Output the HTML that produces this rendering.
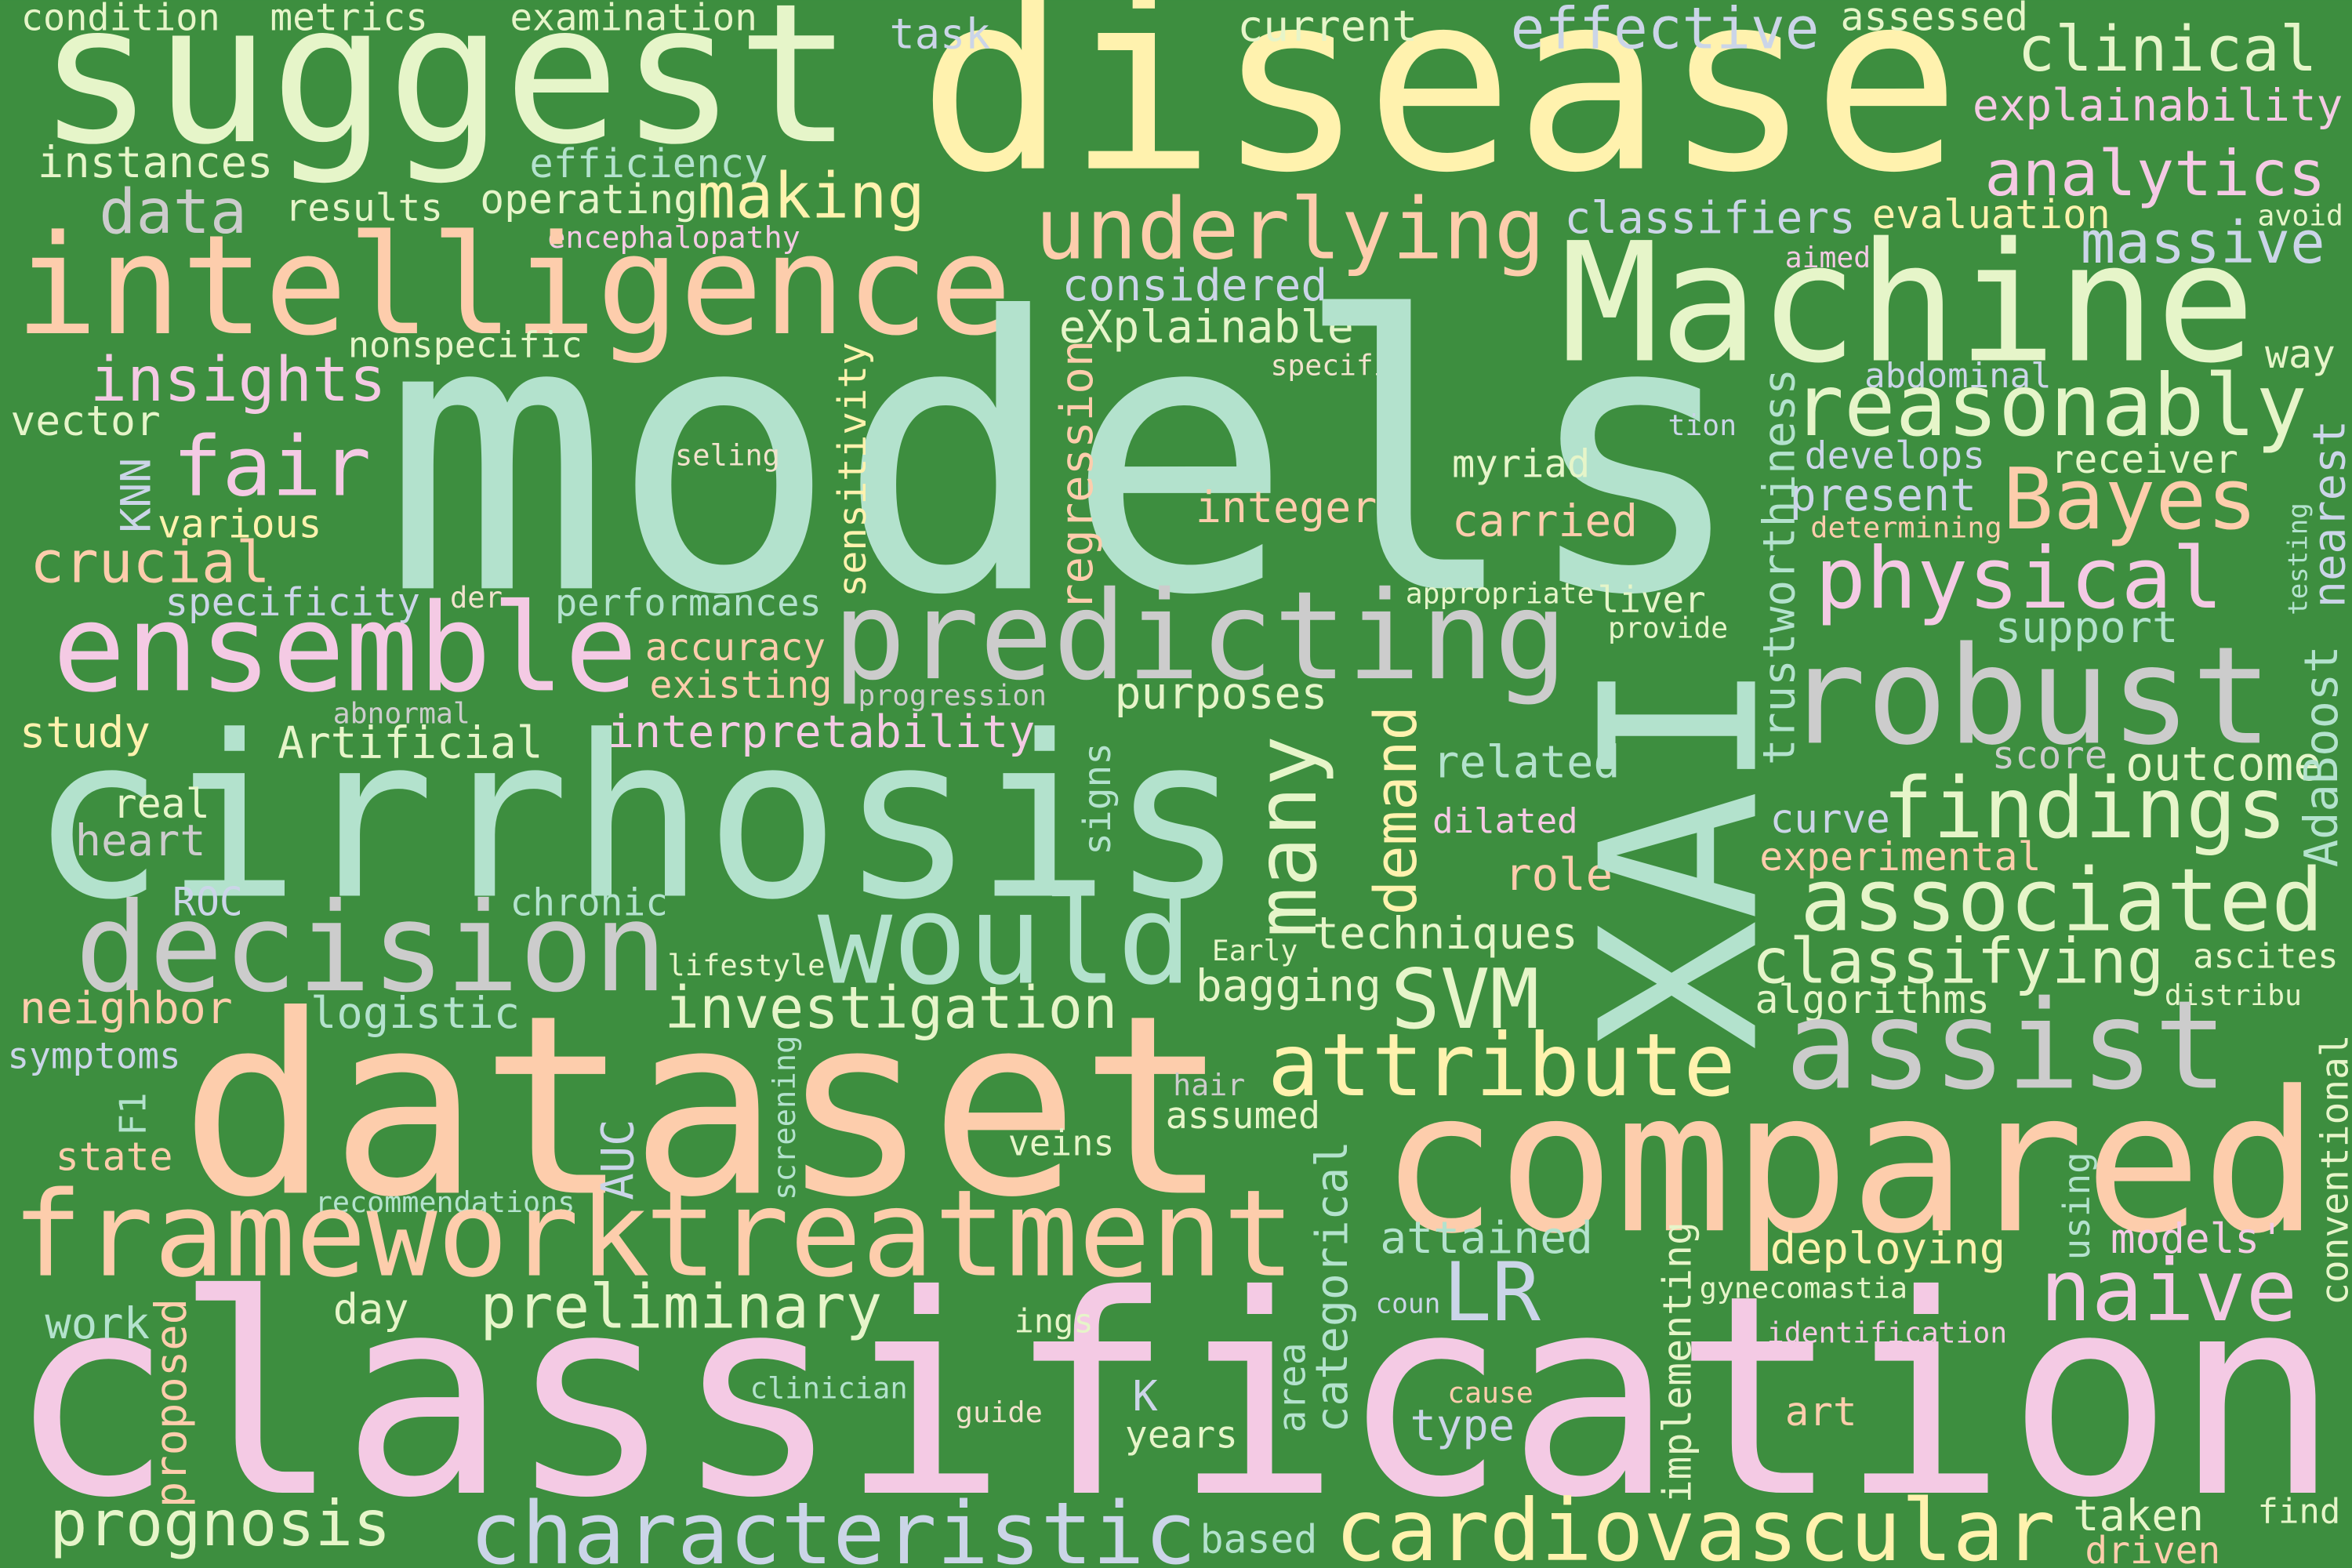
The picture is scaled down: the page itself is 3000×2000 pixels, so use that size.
<!DOCTYPE html>
<html><head><meta charset="utf-8"><style>
html,body{margin:0;padding:0;background:#3d8e3f;}
svg{display:block}
text{font-family:"DejaVu Sans Mono","Liberation Mono",monospace;}
</style></head><body>
<svg width="3000" height="2000" viewBox="0 0 1568 1045" xmlns="http://www.w3.org/2000/svg">
<rect x="0" y="0" width="1568" height="1045" fill="#3d8e3f"/>
<g>
<text x="5" y="995" font-size="184.5" fill="#f4cae4">classification</text>
<text x="14" y="20" font-size="24.5" fill="#e6f5c9">condition</text>
<text x="180" y="20" font-size="25" fill="#e6f5c9">metrics</text>
<text x="340" y="20" font-size="24.9" fill="#e6f5c9">examination</text>
<text x="25" y="94" font-size="129" fill="#e6f5c9">suggest</text>
<text x="612" y="112" font-size="165" fill="#fff2ae">disease</text>
<text x="593" y="32" font-size="28" fill="#cbd5e8">task</text>
<text x="825" y="27" font-size="28.5" fill="#e6f5c9">current</text>
<text x="1007" y="32" font-size="38" fill="#cbd5e8">effective</text>
<text x="1227" y="20" font-size="26" fill="#e6f5c9">assessed</text>
<text x="1345" y="47" font-size="41.5" fill="#e6f5c9">clinical</text>
<text x="1315" y="80" font-size="29.3" fill="#f4cae4">explainability</text>
<text x="25" y="118" font-size="29" fill="#e6f5c9">instances</text>
<text x="353" y="118" font-size="26.4" fill="#b3e2cd">efficiency</text>
<text x="1323" y="130" font-size="42" fill="#f4cae4">analytics</text>
<text x="66" y="155" font-size="41" fill="#cccccc">data</text>
<text x="190" y="147" font-size="25" fill="#e6f5c9">results</text>
<text x="320" y="142" font-size="26.8" fill="#e6f5c9">operating</text>
<text x="465" y="145" font-size="42" fill="#fff2ae">making</text>
<text x="365" y="165" font-size="20" fill="#f4cae4">encephalopathy</text>
<text x="1043" y="155" font-size="29.3" fill="#cbd5e8">classifiers</text>
<text x="1248" y="152" font-size="26.4" fill="#fff2ae">evaluation</text>
<text x="1505" y="150" font-size="19" fill="#e6f5c9">avoid</text>
<text x="690" y="172" font-size="56.5" fill="#fdcdac">underlying</text>
<text x="1387" y="175" font-size="38.7" fill="#cbd5e8">massive</text>
<text x="10" y="222" font-size="92" fill="#fdcdac">intelligence</text>
<text x="1040" y="240" font-size="110" fill="#e6f5c9">Machine</text>
<text x="1190" y="178" font-size="19" fill="#f4cae4">aimed</text>
<text x="708" y="200" font-size="29.4" fill="#cbd5e8">considered</text>
<text x="706" y="228" font-size="29.7" fill="#e6f5c9">eXplainable</text>
<text x="232" y="238" font-size="23.6" fill="#e6f5c9">nonspecific</text>
<text x="847" y="250" font-size="19" fill="#f1e2cc">specific</text>
<text x="1510" y="245" font-size="26" fill="#e6f5c9">way</text>
<text x="60" y="267" font-size="41" fill="#f4cae4">insights</text>
<text x="255" y="392" font-size="252" fill="#b3e2cd">models</text>
<text x="1243" y="258" font-size="23" fill="#cbd5e8">abdominal</text>
<text x="1195" y="290" font-size="57" fill="#e6f5c9">reasonably</text>
<text x="7" y="290" font-size="27.7" fill="#e6f5c9">vector</text>
<text x="1112" y="290" font-size="19" fill="#cbd5e8">tion</text>
<text x="115" y="330" font-size="55" fill="#f4cae4">fair</text>
<text x="450" y="310" font-size="19.4" fill="#f1e2cc">seling</text>
<text x="1203" y="312" font-size="25" fill="#cbd5e8">develops</text>
<text x="1367" y="315" font-size="26" fill="#e6f5c9">receiver</text>
<text x="968" y="318" font-size="25.5" fill="#e6f5c9">myriad</text>
<text x="797" y="348" font-size="28.7" fill="#fdcdac">integer</text>
<text x="1193" y="340" font-size="29.6" fill="#cbd5e8">present</text>
<text x="1335" y="352" font-size="56.5" fill="#fdcdac">Bayes</text>
<text x="968" y="357" font-size="29.4" fill="#fdcdac">carried</text>
<text x="105" y="358" font-size="26" fill="#fff2ae">various</text>
<text x="1207" y="358" font-size="19.3" fill="#fdcdac">determining</text>
<text x="20" y="388" font-size="38" fill="#fdcdac">crucial</text>
<text x="1210" y="405" font-size="56.5" fill="#f4cae4">physical</text>
<text x="110" y="410" font-size="25.7" fill="#cbd5e8">specificity</text>
<text x="300" y="405" font-size="19.4" fill="#f1e2cc">der</text>
<text x="370" y="410" font-size="24.6" fill="#b3e2cd">performances</text>
<text x="937" y="402" font-size="19" fill="#e6f5c9">appropriate</text>
<text x="1065" y="408" font-size="24" fill="#e6f5c9">liver</text>
<text x="1072" y="425" font-size="19" fill="#e6f5c9">provide</text>
<text x="1330" y="428" font-size="29" fill="#b3e2cd">support</text>
<text x="35" y="460" font-size="81" fill="#f4cae4">ensemble</text>
<text x="555" y="452" font-size="81.4" fill="#cccccc">predicting</text>
<text x="430" y="440" font-size="25" fill="#fdcdac">accuracy</text>
<text x="1190" y="495" font-size="90" fill="#cccccc">robust</text>
<text x="433" y="465" font-size="25.3" fill="#fdcdac">existing</text>
<text x="222" y="482" font-size="19" fill="#cccccc">abnormal</text>
<text x="572" y="470" font-size="19" fill="#cccccc">progression</text>
<text x="743" y="472" font-size="29.5" fill="#e6f5c9">purposes</text>
<text x="13" y="498" font-size="29" fill="#fff2ae">study</text>
<text x="185" y="505" font-size="29.4" fill="#e6f5c9">Artificial</text>
<text x="405" y="498" font-size="29.6" fill="#f4cae4">interpretability</text>
<text x="1328" y="512" font-size="25.6" fill="#cccccc">score</text>
<text x="1417" y="520" font-size="31" fill="#e6f5c9">outcome</text>
<text x="955" y="518" font-size="29.7" fill="#b3e2cd">related</text>
<text x="20" y="597" font-size="149.5" fill="#b3e2cd">cirrhosis</text>
<text x="1255" y="558" font-size="56" fill="#e6f5c9">findings</text>
<text x="75" y="545" font-size="27" fill="#e6f5c9">real</text>
<text x="50" y="570" font-size="29" fill="#cccccc">heart</text>
<text x="955" y="555" font-size="23" fill="#f4cae4">dilated</text>
<text x="1180" y="555" font-size="26.6" fill="#cbd5e8">curve</text>
<text x="1173" y="580" font-size="26" fill="#fdcdac">experimental</text>
<text x="1003" y="593" font-size="30" fill="#fdcdac">role</text>
<text x="1200" y="620" font-size="58" fill="#e6f5c9">associated</text>
<text x="115" y="610" font-size="26" fill="#cbd5e8">ROC</text>
<text x="340" y="610" font-size="25" fill="#b3e2cd">chronic</text>
<text x="50" y="660" font-size="82" fill="#cccccc">decision</text>
<text x="545" y="655" font-size="83" fill="#b3e2cd">would</text>
<text x="808" y="640" font-size="19" fill="#e6f5c9">Early</text>
<text x="875" y="632" font-size="29.4" fill="#e6f5c9">techniques</text>
<text x="1168" y="655" font-size="41.5" fill="#e6f5c9">classifying</text>
<text x="1462" y="645" font-size="23" fill="#e6f5c9">ascites</text>
<text x="445" y="650" font-size="19.4" fill="#e6f5c9">lifestyle</text>
<text x="13" y="682" font-size="29.5" fill="#fdcdac">neighbor</text>
<text x="207" y="685" font-size="29" fill="#b3e2cd">logistic</text>
<text x="443" y="685" font-size="38.6" fill="#e6f5c9">investigation</text>
<text x="797" y="667" font-size="29.4" fill="#e6f5c9">bagging</text>
<text x="927" y="685" font-size="55" fill="#e6f5c9">SVM</text>
<text x="1170" y="675" font-size="26" fill="#e6f5c9">algorithms</text>
<text x="1443" y="670" font-size="19" fill="#e6f5c9">distribu</text>
<text x="5" y="712" font-size="24" fill="#cbd5e8">symptoms</text>
<text x="120" y="795" font-size="166" fill="#fdcdac">dataset</text>
<text x="845" y="730" font-size="57.6" fill="#fff2ae">attribute</text>
<text x="1190" y="725" font-size="81.7" fill="#cccccc">assist</text>
<text x="782" y="730" font-size="20" fill="#cccccc">hair</text>
<text x="777" y="752" font-size="24.5" fill="#e6f5c9">assumed</text>
<text x="920" y="820" font-size="130" fill="#fdcdac">compared</text>
<text x="37" y="780" font-size="26" fill="#fdcdac">state</text>
<text x="672" y="770" font-size="23.6" fill="#e6f5c9">veins</text>
<text x="210" y="808" font-size="19.2" fill="#b3e2cd">recommendations</text>
<text x="8" y="850" font-size="78.5" fill="#fdcdac">framework</text>
<text x="430" y="850" font-size="80" fill="#fdcdac">treatment</text>
<text x="920" y="835" font-size="29.5" fill="#b3e2cd">attained</text>
<text x="1180" y="842" font-size="29" fill="#fff2ae">deploying</text>
<text x="1407" y="835" font-size="27.5" fill="#f4cae4">models'</text>
<text x="1360" y="880" font-size="57" fill="#f4cae4">naive</text>
<text x="962" y="880" font-size="54" fill="#cbd5e8">LR</text>
<text x="222" y="882" font-size="28" fill="#e6f5c9">day</text>
<text x="320" y="885" font-size="40.5" fill="#e6f5c9">preliminary</text>
<text x="1133" y="865" font-size="19.2" fill="#e6f5c9">gynecomastia</text>
<text x="30" y="892" font-size="29" fill="#b3e2cd">work</text>
<text x="676" y="888" font-size="22" fill="#e6f5c9">ings</text>
<text x="917" y="875" font-size="18" fill="#cbd5e8">coun</text>
<text x="1178" y="895" font-size="19" fill="#f4cae4">identification</text>
<text x="500" y="932" font-size="19.4" fill="#b3e2cd">clinician</text>
<text x="637" y="948" font-size="19.3" fill="#f1e2cc">guide</text>
<text x="755" y="940" font-size="28" fill="#cbd5e8">K</text>
<text x="965" y="935" font-size="19" fill="#fdcdac">cause</text>
<text x="1190" y="950" font-size="26.6" fill="#fdcdac">art</text>
<text x="940" y="960" font-size="29" fill="#cbd5e8">type</text>
<text x="750" y="965" font-size="25" fill="#e6f5c9">years</text>
<text x="33" y="1030" font-size="42" fill="#e6f5c9">prognosis</text>
<text x="313" y="1042" font-size="57.5" fill="#cbd5e8">characteristic</text>
<text x="800" y="1035" font-size="26" fill="#b3e2cd">based</text>
<text x="890" y="1040" font-size="57" fill="#fff2ae">cardiovascular</text>
<text x="1382" y="1020" font-size="29" fill="#e6f5c9">taken</text>
<text x="1390" y="1042" font-size="25" fill="#fdcdac">driven</text>
<text x="1505" y="1015" font-size="23" fill="#e6f5c9">find</text>

<text transform="translate(1170,700) rotate(-90)" font-size="144" fill="#b3e2cd">XAI</text>
<text transform="translate(877,625) rotate(-90)" font-size="56" fill="#e6f5c9">many</text>
<text transform="translate(944,610) rotate(-90)" font-size="38.7" fill="#fff2ae">demand</text>
<text transform="translate(577,398) rotate(-90)" font-size="25.7" fill="#fff2ae">sensitivity</text>
<text transform="translate(728,407) rotate(-90)" font-size="30" fill="#fdcdac">regression</text>
<text transform="translate(1196,510) rotate(-90)" font-size="29.3" fill="#b3e2cd">trustworthiness</text>
<text transform="translate(100,355) rotate(-90)" font-size="27.7" fill="#cbd5e8">KNN</text>
<text transform="translate(740,570) rotate(-90)" font-size="25" fill="#b3e2cd">signs</text>
<text transform="translate(1558,578) rotate(-90)" font-size="30.7" fill="#b3e2cd">AdaBoost</text>
<text transform="translate(1563,405) rotate(-90)" font-size="29.7" fill="#cbd5e8">nearest</text>
<text transform="translate(1538,410) rotate(-90)" font-size="17.8" fill="#b3e2cd">testing</text>
<text transform="translate(1565,870) rotate(-90)" font-size="25" fill="#e6f5c9">conventional</text>
<text transform="translate(1393,840) rotate(-90)" font-size="24" fill="#b3e2cd">using</text>
<text transform="translate(1127,1002) rotate(-90)" font-size="26" fill="#e6f5c9">implementing</text>
<text transform="translate(898,955) rotate(-90)" font-size="29.4" fill="#b3e2cd">categorical</text>
<text transform="translate(870,955) rotate(-90)" font-size="25" fill="#b3e2cd">area</text>
<text transform="translate(124,1005) rotate(-90)" font-size="29" fill="#fdcdac">proposed</text>
<text transform="translate(97,757) rotate(-90)" font-size="24" fill="#b3e2cd">F1</text>
<text transform="translate(422,800) rotate(-90)" font-size="30" fill="#cbd5e8">AUC</text>
<text transform="translate(530,800) rotate(-90)" font-size="20.3" fill="#b3e2cd">screening</text>
</g>
</svg>
</body></html>
